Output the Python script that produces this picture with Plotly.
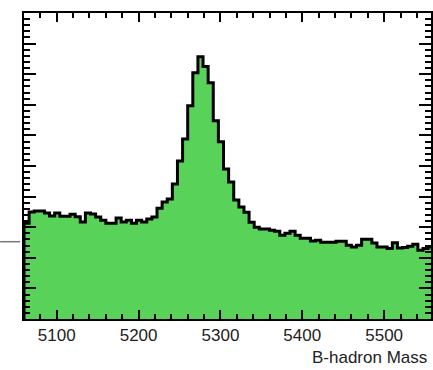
import numpy as np
import plotly.graph_objects as go

# Histogram definition (B-hadron mass, MeV)
bin_lo = 5060.0
bin_hi = 5560.0
n_bins = 80
counts = [
    313, 350, 353, 353, 346, 337, 346, 336, 336, 342,
    334, 317, 346, 343, 333, 323, 313, 313, 330, 317,
    323, 313, 323, 317, 327, 333, 362, 382, 392, 441,
    516, 588, 697, 805, 857, 825, 772, 648, 579, 490,
    448, 389, 366, 349, 316, 300, 294, 294, 290, 287,
    274, 280, 287, 274, 264, 264, 255, 257, 251, 251,
    251, 254, 254, 241, 235, 241, 261, 261, 248, 235,
    235, 230, 249, 232, 234, 238, 244, 225, 230, 235,
]
x_tick_vals = [5100, 5200, 5300, 5400, 5500]
x_tick_text = ["5100", "5200", "5300", "5400", "5500"]
x_title = "B-hadron Mass"

edges = np.linspace(bin_lo, bin_hi, n_bins + 1)
xs = [bin_lo] + list(edges[:-1]) + [bin_hi, bin_hi]
ys = [0] + counts + [counts[-1], 0]

fig = go.Figure()
fig.add_trace(go.Scatter(
    x=xs, y=ys, mode="lines", line=dict(shape="hv", color="black", width=3),
    fill="tozeroy", fillcolor="#58d258", hoverinfo="skip", showlegend=False,
))

W, H = 433, 370
L, R, T, B = 24, 0, 13, 51
px_per_unit = 0.8225
x_end = bin_lo + (W - L - R) / px_per_unit

fig.update_layout(
    width=W, height=H, autosize=False,
    margin=dict(l=L, r=R, t=T, b=B, pad=0),
    paper_bgcolor="white", plot_bgcolor="white",
    font=dict(family="Liberation Sans, Arial, sans-serif", color="#222"),
    showlegend=False,
)
fig.update_xaxes(
    range=[bin_lo, x_end], showgrid=False, zeroline=False,
    showline=True, linecolor="black", linewidth=2, mirror="ticks",
    ticks="inside", ticklen=9, tickwidth=1.5, tickcolor="black",
    tickvals=x_tick_vals, ticktext=x_tick_text,
    tickfont=dict(size=17, color="#222"),
    minor=dict(ticks="inside", ticklen=5, tickwidth=1.5, tickcolor="black", dtick=20, showgrid=False),
)
fig.update_yaxes(
    range=[0, 1000], showgrid=False, zeroline=False,
    showline=True, linecolor="black", linewidth=2, mirror="ticks",
    ticks="inside", ticklen=12, tickwidth=1.5, tickcolor="black",
    dtick=100, showticklabels=False,
    minor=dict(ticks="inside", ticklen=6, tickwidth=1.5, tickcolor="black", dtick=20, showgrid=False),
)
fig.add_annotation(
    text=x_title, xref="paper", yref="paper",
    x=(431 - L) / (W - L - R), y=(H - B - 369) / (H - T - B),
    xanchor="right", yanchor="bottom", showarrow=False,
    font=dict(size=17, color="#222"),
)
fig.add_shape(
    type="line", xref="paper", yref="paper",
    x0=-L / (W - L - R), x1=(20 - L) / (W - L - R),
    y0=(H - B - 241.7) / (H - T - B), y1=(H - B - 241.7) / (H - T - B),
    line=dict(color="#777", width=1.5),
)
fig.write_html("out.html")
